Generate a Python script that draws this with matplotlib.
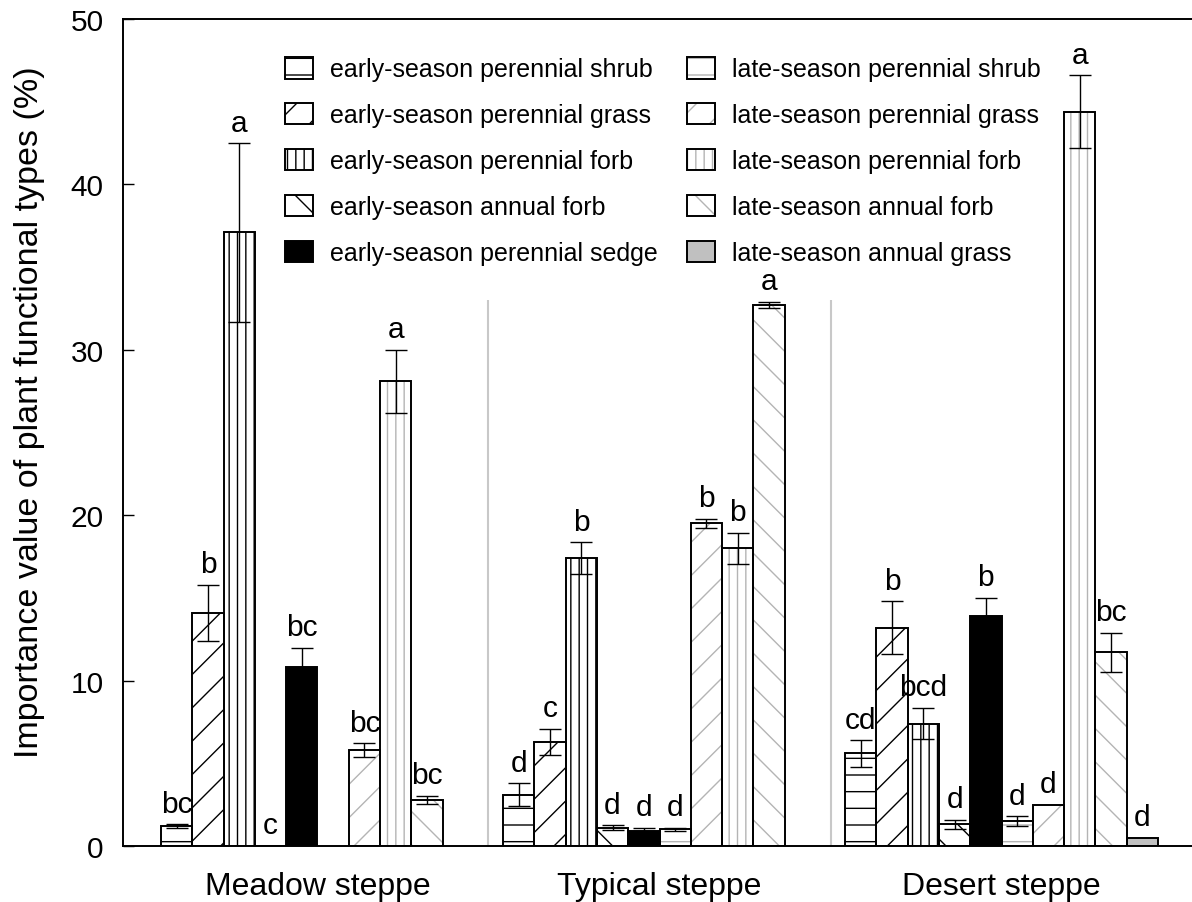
import numpy as np
import matplotlib
matplotlib.use("Agg")
import matplotlib.pyplot as plt
from matplotlib.patches import Patch

groups = ["Meadow steppe", "Typical steppe", "Desert steppe"]

series_names = [
    "early-season perennial shrub",
    "early-season perennial grass",
    "early-season perennial forb",
    "early-season annual forb",
    "early-season perennial sedge",
    "late-season perennial shrub",
    "late-season perennial grass",
    "late-season perennial forb",
    "late-season annual forb",
    "late-season annual grass",
]

nan = np.nan
early_shrub = [1.2, 3.1, 5.6]
early_grass = [14.1, 6.3, 13.2]
early_forb = [37.1, 17.4, 7.4]
early_annual_forb = [0.0, 1.1, 1.3]
early_sedge = [10.8, 0.9, 13.9]
late_shrub = [nan, 1.0, 1.5]
late_grass = [5.8, 19.5, 2.5]
late_forb = [28.1, 18.0, 44.4]
late_annual_forb = [2.8, 32.7, 11.7]
late_annual_grass = [nan, nan, 0.5]

early_shrub_se = [0.1, 0.7, 0.8]
early_grass_se = [1.7, 0.8, 1.6]
early_forb_se = [5.4, 0.95, 0.95]
early_annual_forb_se = [0.0, 0.15, 0.3]
early_sedge_se = [1.2, 0.2, 1.1]
late_shrub_se = [nan, 0.1, 0.3]
late_grass_se = [0.4, 0.3, 0.0]
late_forb_se = [1.9, 0.95, 2.2]
late_annual_forb_se = [0.25, 0.2, 1.2]
late_annual_grass_se = [nan, nan, 0.0]

early_shrub_sig = ["bc", "d", "cd"]
early_grass_sig = ["b", "c", "b"]
early_forb_sig = ["a", "b", "bcd"]
early_annual_forb_sig = ["c", "d", "d"]
early_sedge_sig = ["bc", "d", "b"]
late_shrub_sig = ["", "d", "d"]
late_grass_sig = ["bc", "b", "d"]
late_forb_sig = ["a", "b", "a"]
late_annual_forb_sig = ["bc", "a", "bc"]
late_annual_grass_sig = ["", "", "d"]

values = [early_shrub, early_grass, early_forb, early_annual_forb, early_sedge,
          late_shrub, late_grass, late_forb, late_annual_forb, late_annual_grass]
errors = [early_shrub_se, early_grass_se, early_forb_se, early_annual_forb_se, early_sedge_se,
          late_shrub_se, late_grass_se, late_forb_se, late_annual_forb_se, late_annual_grass_se]
letters = [early_shrub_sig, early_grass_sig, early_forb_sig, early_annual_forb_sig, early_sedge_sig,
           late_shrub_sig, late_grass_sig, late_forb_sig, late_annual_forb_sig, late_annual_grass_sig]

# (face colour, hatch colour, hatch)
GREY = "#b4b4b4"
styles = [
    ("white", "black", "-"),
    ("white", "black", "/"),
    ("white", "black", "||"),
    ("white", "black", "\\"),
    ("black", "black", ""),
    ("white", GREY, "-"),
    ("white", GREY, "/"),
    ("white", GREY, "||"),
    ("white", GREY, "\\"),
    ("#c0c0c0", GREY, ""),
]

plt.rcParams["font.family"] = ["Liberation Sans", "DejaVu Sans"]
plt.rcParams["hatch.linewidth"] = 1.0

fig = plt.figure(figsize=(11.92, 9.03), dpi=100)
ax = fig.add_axes([123 / 1192, 1 - 847 / 903, 1 - 123 / 1192, (847 - 20) / 903])

w = 0.0915
x = np.arange(len(groups))
for j, (vals, errs, sig, (face, hcol, hatch)) in enumerate(zip(values, errors, letters, styles)):
    pos = x + (j - 4.5) * w
    vals = np.asarray(vals, dtype=float)
    errs = np.asarray(errs, dtype=float)
    ax.bar(pos, vals, w, color=face, edgecolor=hcol, hatch=hatch, linewidth=0, zorder=2)
    ax.bar(pos, vals, w, fill=False, edgecolor="black", linewidth=1.4, zorder=2.5)
    shown = np.where(errs > 0, errs, nan)
    ax.errorbar(pos, vals, yerr=shown, fmt="none", ecolor="black", elinewidth=1.0,
                capsize=8, capthick=1.0, zorder=3)
    for p, v, e, s in zip(pos, vals, errs, sig):
        if not s or np.isnan(v):
            continue
        top = v + (e if e > 0 else 0)
        ax.annotate(s, (p, top), xytext=(0, 9), textcoords="offset points",
                    ha="center", va="baseline", fontsize=21.5)

ax.vlines([0.5, 1.5], 0, 33, colors="#c8c8c8", linewidth=1.5, zorder=1)

ax.set_xlim(-0.5687, 2.557)
ax.set_ylim(0, 50)
ax.set_yticks([0, 10, 20, 30, 40, 50])
ax.set_xticks(x)
ax.set_xticklabels(groups)
ax.tick_params(axis="y", direction="in", length=8, width=1.0, pad=14, labelsize=21.5)
ax.tick_params(axis="x", length=0, pad=18, labelsize=23)
ax.spines["right"].set_visible(False)
for s in ("left", "bottom", "top"):
    ax.spines[s].set_linewidth(1.4)

fig.text(30 / 1192, 1 - 412 / 903, "Importance value of plant functional types (%)",
         rotation=90, ha="center", va="center", fontsize=24.5)

handles = []
for face, hcol, hatch in styles:
    h1 = Patch(facecolor=face, edgecolor=hcol, hatch=hatch, linewidth=0)
    h2 = Patch(fill=False, edgecolor="black", linewidth=1.4)
    handles.append((h1, h2))
ax.legend(handles, series_names, ncol=2, frameon=False, fontsize=18,
          loc="upper left", bbox_to_anchor=(285 / 1192, 1 - 58 / 903),
          bbox_transform=fig.transFigure, borderaxespad=0, borderpad=0,
          handlelength=1.12, handleheight=0.95, handletextpad=0.68,
          labelspacing=0.86, columnspacing=1.15)

fig.savefig("out.png", dpi=100)
